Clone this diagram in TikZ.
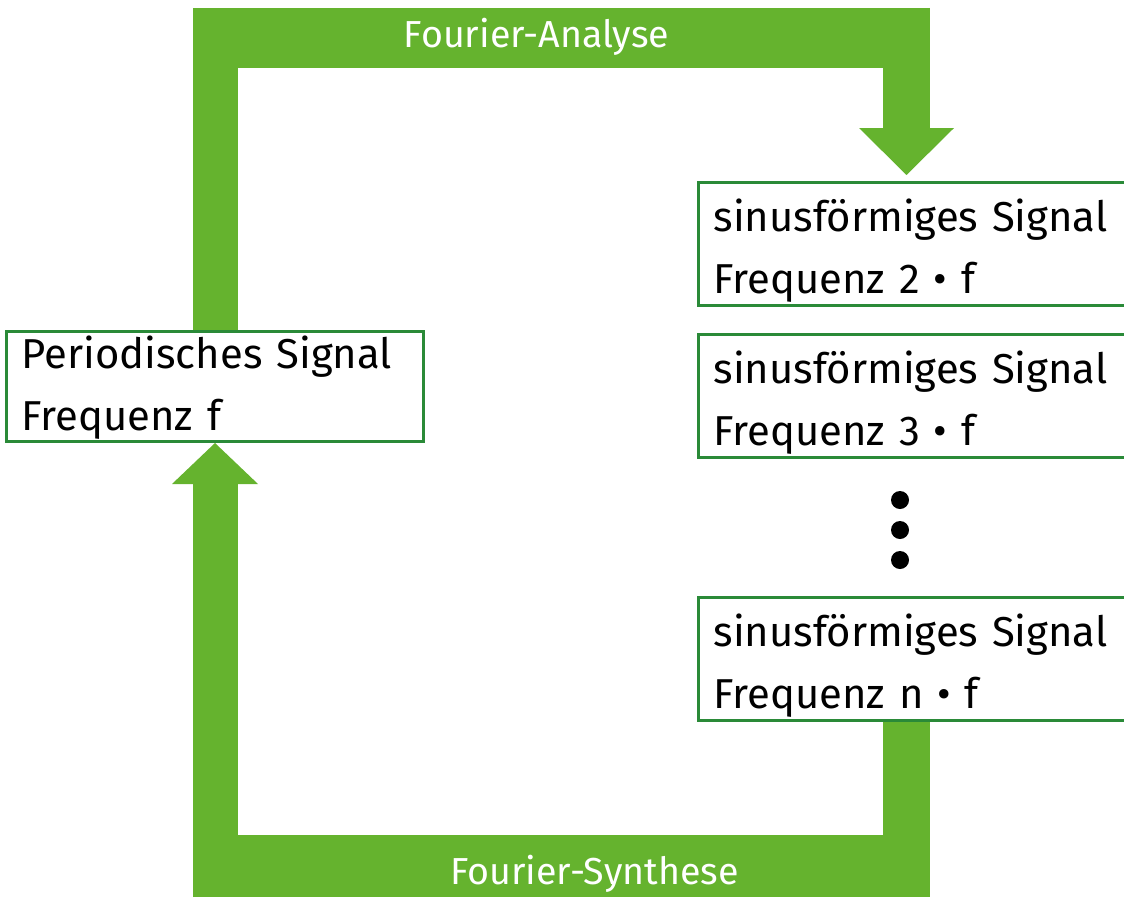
\documentclass[tikz,border=0pt]{standalone}
\usepackage{fontspec}
\setmainfont{Fira Sans}
\usetikzlibrary{arrows.meta,positioning}

\definecolor{bandgreen}{RGB}{101,179,46}
\definecolor{boxgreen}{RGB}{42,138,56}

\tikzset{
  sigbox/.style={draw=boxgreen, line width=3pt, anchor=north west, align=left,
    inner ysep=0pt, font=\fontsize{41.8}{62}\selectfont},
  band/.style={fill=bandgreen, inner sep=0pt, minimum width=737pt, minimum height=60pt},
  bandtext/.style={text=white, font=\fontsize{37.6}{42}\selectfont},
  stem/.style={draw=bandgreen, line width=45pt},
  dot/.style={circle, fill=black, inner sep=0pt, minimum size=18pt},
}

\begin{document}
\begin{tikzpicture}[x=1pt, y=-1pt]
\clip (0,0) rectangle (1124,898);
\useasboundingbox (0,0) rectangle (1124,898);
% --- Signal boxes ---
\node[sigbox, minimum width=417pt, inner xsep=15pt, text width=387pt,
  text height=37pt, text depth=73pt] (periodic) at (5,330)
  {Periodisches Signal\\Frequenz f};
\node[sigbox, minimum width=440pt, inner xsep=15pt, text width=410pt,
  text height=49pt, text depth=74pt] (sin2) at (697,181)
  {sinusförmiges Signal\\Frequenz 2 • f};
\node[sigbox, minimum width=440pt, inner xsep=15pt, text width=410pt,
  text height=49pt, text depth=74pt] (sin3) at (697,333)
  {sinusförmiges Signal\\Frequenz 3 • f};
\node[sigbox, minimum width=440pt, inner xsep=15pt, text width=410pt,
  text height=49pt, text depth=74pt] (sinn) at (697,596)
  {sinusförmiges Signal\\Frequenz n • f};
% --- Dots between the boxes ---
\foreach \i/\y in {1/500, 2/530, 3/560}
  \node[dot] (dot\i) at (900,\y) {};
% --- Bands ---
\node[band, label={[bandtext, xshift=-25pt, yshift=1pt]center:Fourier-Analyse}] (analyse) at (561.5,38) {};
\node[band, minimum height=62pt, label={[bandtext, xshift=33pt, yshift=-8pt]center:Fourier-Synthese}] (synthese) at (561.5,866) {};
\coordinate (tipA) at (906.5,175);
% --- Analysis loop ---
\draw[stem] (periodic.north) -- (periodic.north |- analyse.north);
\draw[stem, line width=47pt, -{Triangle[width=95pt, length=47pt, line width=0pt]}]
  (tipA |- analyse.north) -- (tipA);
% --- Synthesis loop ---
\draw[stem, line width=47pt] (tipA |- sinn.south) -- (tipA |- synthese.south);
\draw[stem, -{Triangle[width=86pt, length=41pt, line width=0pt]}]
  (periodic.south |- synthese.south) -- (periodic.south);
\end{tikzpicture}
\end{document}
